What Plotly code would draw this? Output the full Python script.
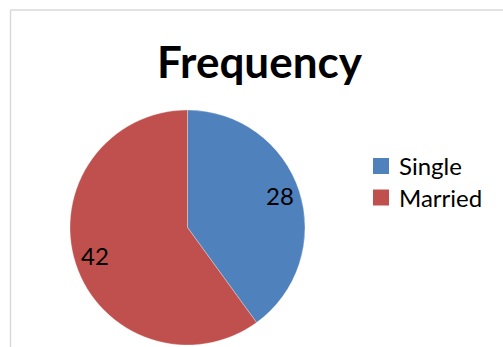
import math
import plotly.graph_objects as go

# Data
categories = ["Single", "Married"]
values = [28, 42]
colors = ["#4F81BD", "#C0504D"]
title_text = "Frequency"

W, H = 503, 347

# Pie placement (pixels)
cx_px, cy_px, r_px = 187.5, 227.5, 117.5
dom_x = [(cx_px - r_px) / W, (cx_px + r_px) / W]
dom_y = [1 - (cy_px + r_px) / H, 1 - (cy_px - r_px) / H]

fig = go.Figure(go.Pie(
    labels=categories,
    values=values,
    sort=False,
    direction="clockwise",
    rotation=0,
    marker=dict(colors=colors, line=dict(color="rgba(255,255,255,0.6)", width=0.5)),
    textinfo="none",
    hoverinfo="label+value",
    domain=dict(x=dom_x, y=dom_y),
    showlegend=False,
))

# Data labels placed along each slice bisector (derived from values)
total = sum(values)
cum = 0
annotations = []
shapes = []
for cat, v in zip(categories, values):
    mid = (cum + v / 2) / total * 2 * math.pi
    cum += v
    lx = cx_px + 0.83 * r_px * math.sin(mid)
    ly = cy_px - 0.83 * r_px * math.cos(mid) - 2
    annotations.append(dict(
        x=lx / W, y=1 - ly / H, xref="paper", yref="paper",
        text=str(v), showarrow=False, xanchor="center", yanchor="middle",
        font=dict(family="Lato", size=24, color="#000000"),
    ))

# Legend (custom, keyed by category order)
leg_x, leg_y0, leg_dy, sq = 373, 158, 31.5, 16
for i, (cat, col) in enumerate(zip(categories, colors)):
    top = leg_y0 + i * leg_dy
    shapes.append(dict(type="rect", xref="paper", yref="paper",
                       x0=leg_x / W, x1=(leg_x + sq) / W,
                       y0=1 - (top + sq) / H, y1=1 - top / H,
                       fillcolor=col, line=dict(width=0)))
    annotations.append(dict(
        x=(leg_x + sq + 8) / W, y=1 - (top + sq / 2) / H, xref="paper", yref="paper",
        text=cat, showarrow=False, xanchor="left", yanchor="middle",
        font=dict(family="Lato", size=24, color="#000000"),
    ))

annotations.append(dict(
    x=260 / W, y=1 - 61 / H, xref="paper", yref="paper",
    text="<b>" + title_text + "</b>", showarrow=False,
    xanchor="center", yanchor="middle",
    font=dict(family="Lato", size=44, color="#000000"),
))

shapes += [
    dict(type="line", xref="paper", yref="paper",
         x0=10.5 / W, x1=1, y0=1 - 10 / H, y1=1 - 10 / H,
         line=dict(color="#D9D9D9", width=1.5)),
    dict(type="line", xref="paper", yref="paper",
         x0=10.5 / W, x1=10.5 / W, y0=1 - 10 / H, y1=0,
         line=dict(color="#D9D9D9", width=1.5)),
]

fig.update_layout(
    width=W, height=H,
    margin=dict(l=0, r=0, t=0, b=0),
    paper_bgcolor="white",
    plot_bgcolor="white",
    showlegend=False,
    annotations=annotations,
    shapes=shapes,
)

fig.write_html("out.html")
